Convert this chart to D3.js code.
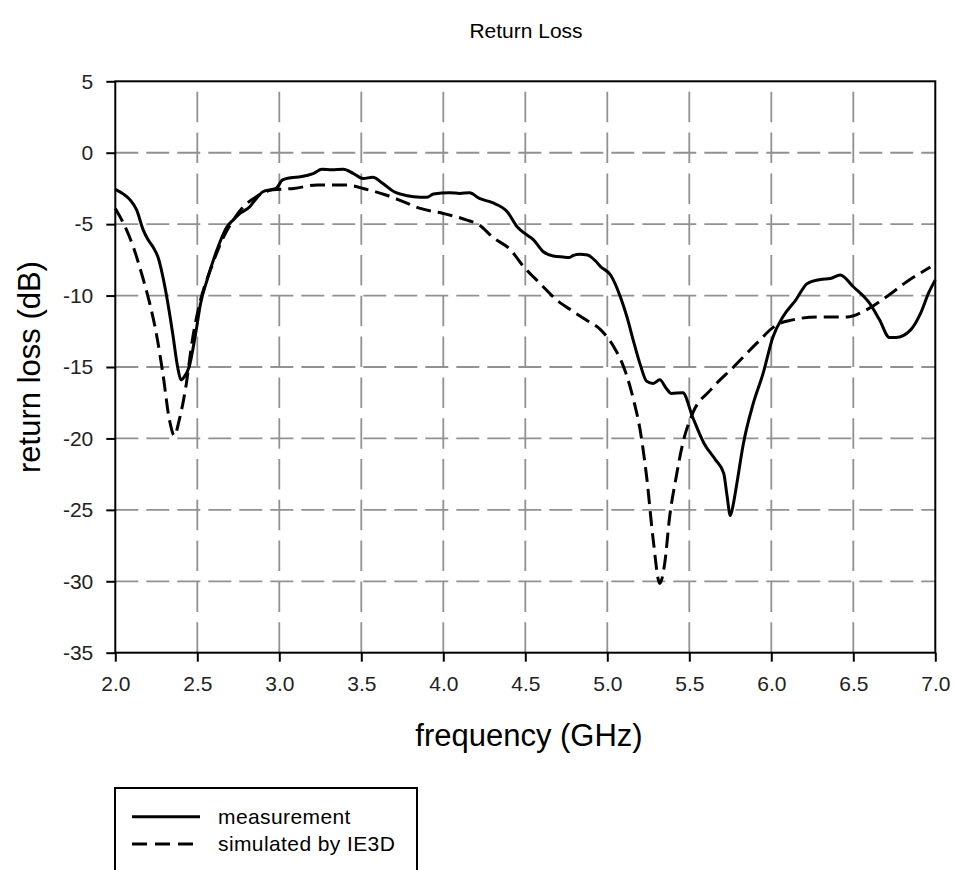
<!DOCTYPE html>
<html>
<head>
<meta charset="utf-8">
<script src="https://cdn.jsdelivr.net/npm/d3@7"></script>
<style>
  html, body { margin: 0; padding: 0; background: #fff; }
  svg { display: block; font-family: "Liberation Sans", Arial, sans-serif; }
</style>
</head>
<body>
<svg id="chart" width="954" height="870"></svg>
<script>
// Measured return loss (GHz, dB)
const measFreq = [2.00, 2.05, 2.09, 2.13, 2.17, 2.20, 2.23, 2.26, 2.31, 2.35, 2.38, 2.40, 2.42, 2.45, 2.49,
  2.52, 2.56, 2.62, 2.68, 2.72, 2.76, 2.82, 2.86, 2.90, 2.94, 2.98, 3.02, 3.07, 3.13, 3.21, 3.26, 3.32,
  3.39, 3.45, 3.51, 3.57, 3.63, 3.70, 3.74, 3.82, 3.90, 3.94, 4.04, 4.10, 4.16, 4.22, 4.30, 4.39, 4.45,
  4.51, 4.55, 4.61, 4.67, 4.73, 4.77, 4.79, 4.83, 4.88, 4.93, 4.96, 5.02, 5.08, 5.12, 5.16, 5.20, 5.24,
  5.28, 5.32, 5.36, 5.39, 5.46, 5.52, 5.59, 5.66, 5.71, 5.73, 5.75, 5.77, 5.79, 5.83, 5.89, 5.95, 6.01,
  6.07, 6.15, 6.22, 6.30, 6.36, 6.42, 6.50, 6.60, 6.66, 6.72, 6.76, 6.85, 6.91, 6.96, 7.00];
const measDb = [-2.56, -2.9, -3.3, -4.0, -5.4, -6.1, -6.6, -7.3, -9.85, -12.65, -15.0, -15.9, -15.7, -15.0, -12.65,
  -10.55, -8.9, -6.8, -5.2, -4.7, -4.25, -3.78, -3.2, -2.73, -2.6, -2.5, -1.9, -1.75, -1.68, -1.44, -1.16, -1.2,
  -1.16, -1.44, -1.8, -1.72, -2.14, -2.73, -2.9, -3.08, -3.12, -2.89, -2.8, -2.85, -2.8, -3.2, -3.5, -4.13, -5.18,
  -5.76, -6.1, -6.93, -7.23, -7.3, -7.33, -7.2, -7.1, -7.16, -7.6, -7.98, -8.56, -10.1, -11.5, -13.2, -14.8, -16.0,
  -16.15, -15.9, -16.5, -16.85, -16.8, -18.5, -20.35, -21.5, -22.45, -24.0, -25.4, -24.5, -23.15, -20.35, -17.55, -15.45, -12.9,
  -11.5, -10.3, -9.15, -8.87, -8.8, -8.56, -9.38, -10.55, -11.7, -12.93, -12.93, -12.4, -11.25, -9.8, -8.9];

// IE3D simulation (GHz, dB)
const simFreq = [2.00, 2.05, 2.11, 2.16, 2.21, 2.25, 2.29, 2.33, 2.36, 2.39, 2.43, 2.47, 2.52, 2.58, 2.66,
  2.72, 2.78, 2.86, 2.96, 3.09, 3.23, 3.41, 3.53, 3.65, 3.74, 3.86, 4.00, 4.14, 4.22, 4.30, 4.41, 4.49,
  4.59, 4.69, 4.79, 4.87, 4.96, 5.04, 5.10, 5.16, 5.20, 5.24, 5.28, 5.32, 5.35, 5.38, 5.42, 5.46, 5.52,
  5.63, 5.77, 5.91, 6.03, 6.13, 6.28, 6.46, 6.58, 6.70, 6.83, 6.97];
const simDb = [-3.9, -4.95, -6.6, -8.45, -10.55, -12.65, -15.45, -18.7, -19.8, -18.7, -16.4, -13.1, -10.3, -8.2, -5.9,
  -4.7, -3.8, -3.08, -2.6, -2.5, -2.26, -2.26, -2.56, -2.96, -3.35, -3.9, -4.25, -4.7, -5.06, -5.9, -6.8, -7.98,
  -9.15, -10.3, -11.1, -11.7, -12.4, -13.6, -15.0, -17.3, -19.4, -22.7, -27.1, -30.15, -28.75, -25.5, -22.7, -20.35, -18.25,
  -16.6, -15.0, -13.35, -12.07, -11.7, -11.5, -11.5, -11.0, -10.1, -9.0, -8.0];

const xTicks = [2.0, 2.5, 3.0, 3.5, 4.0, 4.5, 5.0, 5.5, 6.0, 6.5, 7.0];
const yTicks = [5, 0, -5, -10, -15, -20, -25, -30, -35];
const legendLabels = ["measurement", "simulated by IE3D"];

const svg = d3.select("#chart");
const plotL = 115.3, plotR = 935.3, plotT = 81.3, plotB = 652.7;

const x = d3.scaleLinear().domain([2, 7]).range([plotL, plotR]);
const y = d3.scaleLinear().domain([-35, 5]).range([plotB, plotT]);

// Dashed gray grid
const grid = svg.append("g").attr("stroke", "#919191").attr("stroke-width", 1.8).attr("fill", "none");
grid.selectAll("line.h").data(yTicks.filter(v => v > -35 && v < 5)).join("line")
  .attr("class", "h")
  .attr("x1", plotL).attr("x2", plotR)
  .attr("y1", d => y(d)).attr("y2", d => y(d))
  .attr("stroke-dasharray", "23,8");
grid.selectAll("line.v").data(xTicks.filter(v => v > 2 && v < 7)).join("line")
  .attr("class", "v")
  .attr("x1", d => x(d)).attr("x2", d => x(d))
  .attr("y1", plotB).attr("y2", plotT)
  .attr("stroke-dasharray", "30.5,10.3");

// Axes
const fmtY = d => String(d);
const yAxis = svg.append("g").attr("transform", `translate(${plotL},0)`)
  .call(d3.axisLeft(y).tickValues(yTicks).tickFormat(fmtY).tickSize(9).tickPadding(13));
const xAxis = svg.append("g").attr("transform", `translate(0,${plotB})`)
  .call(d3.axisBottom(x).tickValues(xTicks).tickFormat(d3.format(".1f")).tickSize(9).tickPadding(14));
[yAxis, xAxis].forEach(g => {
  g.select(".domain").remove();
  g.selectAll(".tick line").attr("stroke", "#000").attr("stroke-width", 2);
  g.selectAll(".tick text").attr("fill", "#222").attr("font-size", 21)
    .attr("font-family", "'Liberation Sans', Arial, sans-serif");
});

// Plot frame
svg.append("rect")
  .attr("x", plotL).attr("y", plotT)
  .attr("width", plotR - plotL).attr("height", plotB - plotT)
  .attr("fill", "none").attr("stroke", "#000").attr("stroke-width", 2);

// Curves
const line = d3.line().x(d => x(d[0])).y(d => y(d[1])).curve(d3.curveMonotoneX);
const measPts = measFreq.map((f, i) => [f, measDb[i]]);
const simPts = simFreq.map((f, i) => [f, simDb[i]]);

svg.append("path").datum(simPts)
  .attr("d", line).attr("fill", "none").attr("stroke", "#000")
  .attr("stroke-width", 3).attr("stroke-dasharray", "15,7");
svg.append("path").datum(measPts)
  .attr("d", line).attr("fill", "none").attr("stroke", "#000")
  .attr("stroke-width", 3).attr("stroke-linejoin", "round");

// Titles
svg.append("text").attr("x", 526).attr("y", 38).attr("text-anchor", "middle")
  .attr("font-size", 21).text("Return Loss");
svg.append("text").attr("x", 529).attr("y", 746).attr("text-anchor", "middle")
  .attr("font-size", 31).text("frequency (GHz)");
svg.append("text").attr("transform", `translate(40,367) rotate(-90)`).attr("text-anchor", "middle")
  .attr("font-size", 31).text("return loss (dB)");

// Legend
const lg = svg.append("g");
lg.append("rect").attr("x", 115).attr("y", 788).attr("width", 302).attr("height", 100)
  .attr("fill", "#fff").attr("stroke", "#000").attr("stroke-width", 2);
const rows = [{ dash: null, yy: 816.7 }, { dash: "15,8", yy: 844 }];
rows.forEach((r, i) => {
  lg.append("line").attr("x1", 132).attr("x2", 200).attr("y1", r.yy).attr("y2", r.yy)
    .attr("stroke", "#000").attr("stroke-width", 3).attr("stroke-dasharray", r.dash);
  lg.append("text").attr("x", 218).attr("y", r.yy).attr("dy", "0.35em")
    .attr("font-size", 21).attr("letter-spacing", 0.4).text(legendLabels[i]);
});
</script>
</body>
</html>
